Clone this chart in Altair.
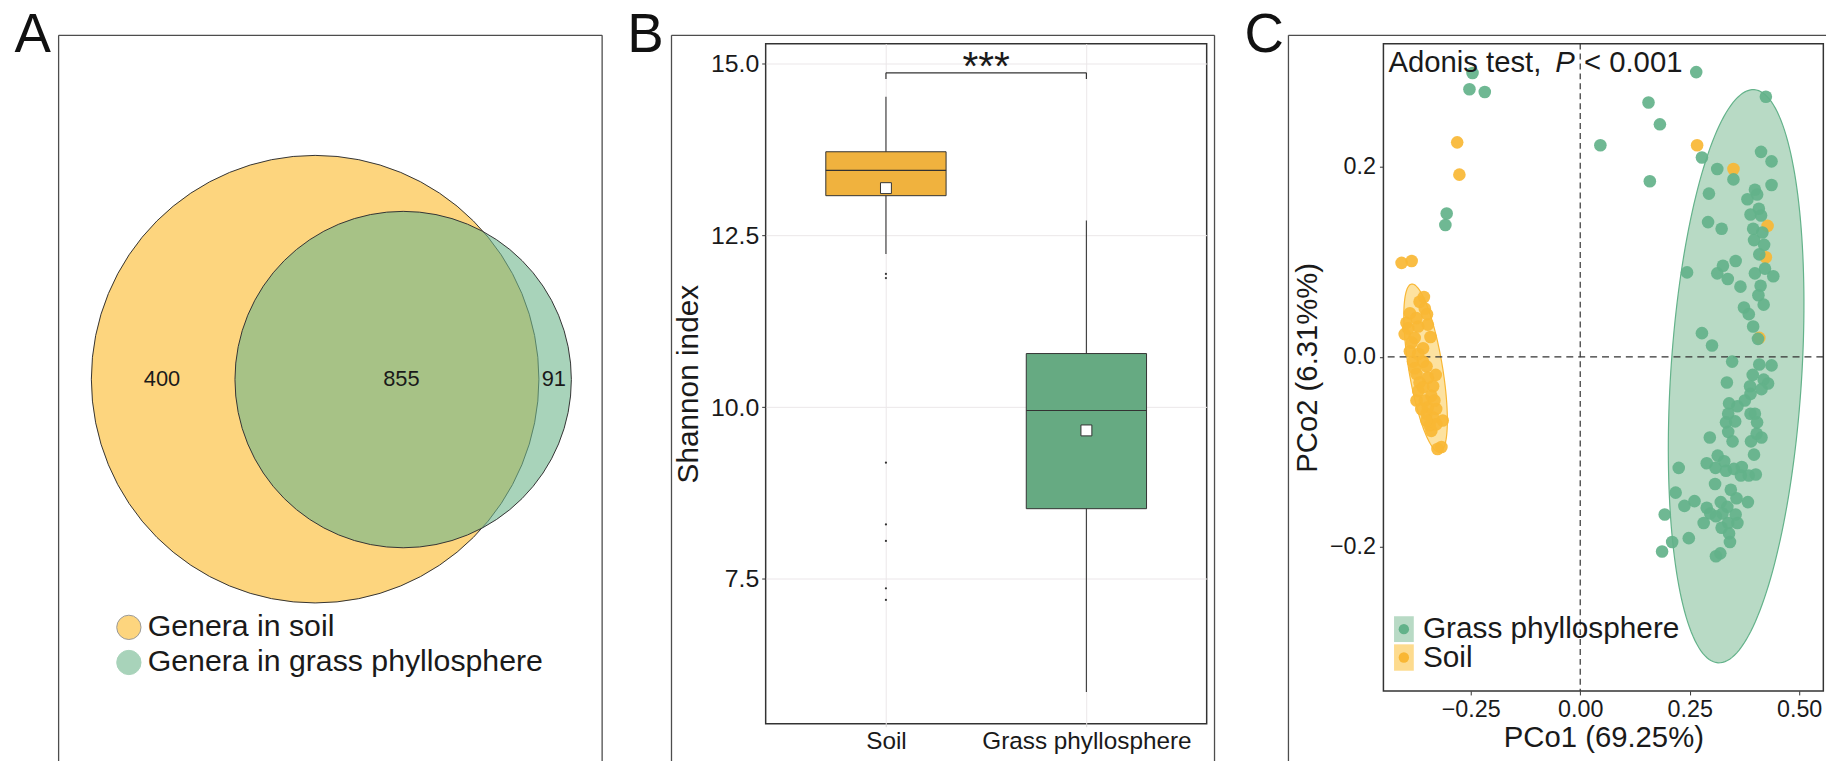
import numpy as np
import pandas as pd
import altair as alt

FONT = "Liberation Sans"
INK = "#1a1a1a"
FRAME = "#4d4d4d"

# ---------------- data ----------------
# Panel A (Venn)
venn_sets = ["Genera in soil", "Genera in grass phyllosphere"]
venn_region_counts = [400, 855, 91]          # soil only, shared, grass only

# Panel B (Shannon index box plot)
box_groups = ["Soil", "Grass phyllosphere"]
box_pos = [1, 2]
box_q1 = [13.08, 8.52]
box_median = [13.45, 9.95]
box_q3 = [13.72, 10.78]
box_whisker_low = [12.23, 5.85]
box_whisker_high = [14.52, 12.72]
box_mean = [13.19, 9.66]
soil_outliers = [11.94, 11.88, 9.19, 8.29, 8.05, 7.36, 7.19]
signif_label = "***"
signif_levels = [14.87, 14.78]               # bracket, bracket tips

# Panel C (PCoA)
grass_pc1 = [-0.246, -0.253, -0.218, -0.305, -0.308,
             0.265, 0.156, 0.182, 0.046, 0.159, 0.424, 0.278, 0.313, 0.350, 0.413, 0.437, 0.437, 0.294,
             0.399, 0.404, 0.382, 0.408, 0.389, 0.413, 0.292, 0.323, 0.395, 0.416, 0.397, 0.420, 0.409,
             0.355, 0.326, 0.313, 0.244, 0.337, 0.399, 0.422, 0.441, 0.366, 0.412, 0.407, 0.419, 0.374,
             0.385, 0.395, 0.278, 0.301, 0.406, 0.347, 0.409, 0.437,
             0.394, 0.335, 0.419, 0.429, 0.388, 0.414, 0.389, 0.376, 0.340, 0.359, 0.338, 0.389, 0.399,
             0.333, 0.354, 0.404, 0.338, 0.403, 0.414, 0.390, 0.348, 0.296, 0.397, 0.225, 0.289, 0.314,
             0.329, 0.309, 0.333, 0.351, 0.369, 0.367, 0.385, 0.401, 0.308, 0.344, 0.357, 0.383, 0.218,
             0.261, 0.238, 0.289, 0.321, 0.336, 0.193, 0.297, 0.310, 0.325, 0.355, 0.282, 0.338, 0.359,
             0.323, 0.340, 0.210, 0.248, 0.342, 0.187, 0.320, 0.310]
grass_pc2 = [0.299, 0.282, 0.279, 0.151, 0.139,
             0.300, 0.268, 0.245, 0.223, 0.185, 0.274, 0.210, 0.198, 0.187, 0.216, 0.206, 0.181, 0.172,
             0.176, 0.171, 0.166, 0.156, 0.150, 0.149, 0.142, 0.135, 0.135, 0.131, 0.123, 0.118, 0.108,
             0.101, 0.096, 0.088, 0.089, 0.082, 0.088, 0.093, 0.085, 0.074, 0.075, 0.065, 0.055, 0.052,
             0.045, 0.032, 0.025, 0.012, 0.019, -0.005, -0.008, -0.009,
             -0.019, -0.027, -0.024, -0.028, -0.031, -0.034, -0.039, -0.046, -0.049, -0.052, -0.060, -0.060, -0.060,
             -0.069, -0.068, -0.069, -0.079, -0.081, -0.085, -0.089, -0.089, -0.085, -0.103, -0.117, -0.112, -0.104,
             -0.110, -0.117, -0.120, -0.118, -0.116, -0.125, -0.125, -0.124, -0.134, -0.140, -0.149, -0.153, -0.143,
             -0.152, -0.157, -0.159, -0.153, -0.158, -0.166, -0.165, -0.168, -0.165, -0.166, -0.175, -0.175, -0.175,
             -0.180, -0.186, -0.195, -0.191, -0.195, -0.205, -0.207, -0.210]
soil_pc1 = [-0.281, -0.276, -0.408, -0.385, 0.267, 0.350, 0.428, 0.424, 0.409,
            -0.357, -0.367, -0.389, -0.350, -0.397, -0.401, -0.370, -0.342, -0.378, -0.389, -0.359,
            -0.382, -0.351, -0.330, -0.374, -0.367, -0.336, -0.370, -0.340, -0.355, -0.374, -0.329,
            -0.351, -0.314, -0.336, -0.344, -0.317, -0.326, -0.393, -0.355, -0.374, -0.348, -0.385,
            -0.370, -0.359, -0.378, -0.348, -0.359, -0.348, -0.363, -0.333, -0.340, -0.329, -0.351]
soil_pc2 = [0.226, 0.192, 0.099, 0.101, 0.223, 0.198, 0.138, 0.105, 0.020,
            0.063, 0.058, 0.046, 0.045, 0.036, 0.024, 0.032, 0.021, 0.020, 0.006, 0.009,
            -0.005, -0.010, -0.019, -0.018, -0.027, -0.031, -0.036, -0.041, -0.046, -0.046, -0.055,
            -0.060, -0.067, -0.064, -0.072, -0.095, -0.097, 0.030, 0.051, 0.041, 0.034, 0.015,
            0.003, -0.005, -0.012, -0.022, -0.032, -0.053, -0.055, -0.046, -0.078, -0.071, -0.067]
# 95% ellipses: centre, semi-axis vectors (data units)
grass_ellipse = [0.3561, -0.0204, 0.04125, 0.3019, 0.1493, -0.00434]
soil_ellipse = [-0.3532, -0.0118, -0.0321, 0.0885, 0.0380, 0.00294]
adonis_text = ["Adonis test, ", "P", " < 0.001"]

# ---------------- layout ----------------
A_W, A_H = 534.2, 685.3
B_W, B_H = 444.4, 685.3
C_W, C_H = 443.3, 652.3
GAP = 177.5
FRAME_TOP = -8.4
FRAME_BOTTOM = 725.0

SOIL_VENN = "#FDD57E"
GRASS_VENN = "#6EB68C"
SOIL_BOX = "#F0B23E"
GRASS_BOX = "#66AA82"
GREEN_PT = "#63B28A"
ORANGE_PT = "#F9B734"

one = pd.DataFrame({"k": [0]})


def frame(x0, x1, right=True):
    base = alt.Chart(one)
    layers = [
        base.mark_rule(color=FRAME, strokeWidth=1.3).encode(
            x=alt.value(x0), y=alt.value(FRAME_TOP), y2=alt.value(FRAME_BOTTOM)),
        base.mark_rule(color=FRAME, strokeWidth=1.3).encode(
            x=alt.value(x0), x2=alt.value(x1), y=alt.value(FRAME_TOP)),
    ]
    if right:
        layers.append(base.mark_rule(color=FRAME, strokeWidth=1.3).encode(
            x=alt.value(x1), y=alt.value(FRAME_TOP), y2=alt.value(FRAME_BOTTOM)))
    return layers


def letter(ch, x):
    return alt.Chart(one).mark_text(text=ch, fontSize=55, font=FONT, color="#111111",
                                    align="left", baseline="alphabetic").encode(
        x=alt.value(x), y=alt.value(8.1))


# ---------------- Panel A ----------------
ax_x = alt.Scale(domain=[0, A_W], nice=False, zero=False)
ax_y = alt.Scale(domain=[A_H, 0], nice=False, zero=False)


def XA(f):
    return alt.X(f, type="quantitative", scale=ax_x, axis=None)


def YA(f):
    return alt.Y(f, type="quantitative", scale=ax_y, axis=None)


circ = pd.DataFrame({"cx": [258.5, 347.2], "cy": [338.1, 338.5], "r": [225.5, 169.5]})
# vega circle symbol: size = diameter^2
soil_c = alt.Chart(circ.iloc[[0]]).mark_circle(
    size=(2 * 225.5) ** 2, color=SOIL_VENN, opacity=1, stroke="#333333", strokeWidth=1
).encode(x=XA("cx"), y=YA("cy"))
grass_c = alt.Chart(circ.iloc[[1]]).mark_circle(
    size=(2 * 169.5) ** 2, color=GRASS_VENN, fillOpacity=0.6, strokeOpacity=1,
    stroke="#333333", strokeWidth=1
).encode(x=XA("cx"), y=YA("cy"))
venn_lab = pd.DataFrame({"x": [104.2, 345.4, 499.0], "y": [338.0] * 3,
                         "t": [str(v) for v in venn_region_counts]})
venn_text = alt.Chart(venn_lab).mark_text(fontSize=22, font=FONT, color=INK, baseline="middle").encode(
    x=XA("x"), y=YA("y"), text="t:N")
leg_a = pd.DataFrame({"x": [70.8, 70.8], "y": [588.2, 623.6], "t": venn_sets,
                      "c": ["#FDD57E", "#A8D3BA"], "s": ["#999999", "#A8D3BA"]})
leg_a_dot = alt.Chart(leg_a).mark_circle(size=600, opacity=1, strokeWidth=1).encode(
    x=XA("x"), y=YA("y"), color=alt.Color("c:N", scale=None), stroke=alt.Stroke("s:N", scale=None))
leg_a_txt = alt.Chart(leg_a).mark_text(fontSize=30.5, font=FONT, color=INK, align="left",
                                       baseline="middle", dx=19).encode(x=XA("x"), y=YA("y"), text="t:N")

panelA = alt.layer(
    soil_c, grass_c, venn_text, leg_a_dot, leg_a_txt,
    *frame(0, 547.7), letter("A", -44.5)
).properties(width=A_W, height=A_H, view=alt.ViewBackground(stroke="transparent"))

# ---------------- Panel B ----------------
bx = alt.Scale(domain=[0.4, 2.6], nice=False, zero=False)
by = alt.Scale(domain=[5.387, 15.295], nice=False, zero=False)
label_expr = "datum.value == 1 ? '%s' : '%s'" % (box_groups[0], box_groups[1])
axBx = alt.Axis(values=[1, 2], labelExpr=label_expr, title=None, grid=True, gridColor="#EBE7E9",
                domain=False, ticks=True, tickColor="#D9D9D9", tickSize=3, labelPadding=3,
                labelFontSize=24.5, labelFlush=False, labelLimit=1000, labelColor=INK)
axBy = alt.Axis(values=[7.5, 10, 12.5, 15], format=".1f", title="Shannon index", grid=True,
                gridColor="#EBE7E9", domain=False, tickColor="#333333", tickSize=4, labelPadding=3,
                labelFontSize=25, titleFontSize=30, titlePadding=7, labelColor=INK, titleColor=INK)


def XB(f):
    return alt.X(f, type="quantitative", scale=bx, axis=axBx)


def YB(f):
    return alt.Y(f, type="quantitative", scale=by, axis=axBy)


box = pd.DataFrame({"g": box_groups, "p": box_pos, "q1": box_q1, "med": box_median, "q3": box_q3,
                    "lo": box_whisker_low, "hi": box_whisker_high, "mean": box_mean,
                    "col": [SOIL_BOX, GRASS_BOX]})
box["l"] = box["p"] - 0.3
box["r"] = box["p"] + 0.3
whisk = alt.Chart(box).mark_rule(color="#444444", strokeWidth=1.2).encode(x=XB("p"), y=YB("lo"), y2="hi")
boxes = alt.Chart(box).mark_rect(stroke="#333333", strokeWidth=1).encode(
    x=XB("l"), x2="r", y=YB("q1"), y2="q3", color=alt.Color("col:N", scale=None))
med = alt.Chart(box).mark_rule(color="#333333", strokeWidth=1.2).encode(x=XB("l"), x2="r", y=YB("med"))
mean = alt.Chart(box).mark_point(shape="square", filled=True, fill="white", stroke="#333333",
                                 strokeWidth=1, size=121, opacity=1).encode(x=XB("p"), y=YB("mean"))
outl = alt.Chart(pd.DataFrame({"p": [box_pos[0]] * len(soil_outliers), "v": soil_outliers})).mark_circle(
    size=5, color="#333333", opacity=1).encode(x=XB("p"), y=YB("v"))
br = pd.DataFrame({"x1": [box_pos[0]], "x2": [box_pos[1]], "y": [signif_levels[0]],
                   "ytip": [signif_levels[1]]})
br_h = alt.Chart(br).mark_rule(color="#333333", strokeWidth=1.2).encode(x=XB("x1"), x2="x2", y=YB("y"))
br_l = alt.Chart(br).mark_rule(color="#333333", strokeWidth=1.2).encode(x=XB("x1"), y=YB("y"), y2="ytip")
br_r = alt.Chart(br).mark_rule(color="#333333", strokeWidth=1.2).encode(x=XB("x2"), y=YB("y"), y2="ytip")
star = alt.Chart(pd.DataFrame({"x": [(box_pos[0] + box_pos[1]) / 2], "y": [signif_levels[0]],
                               "t": [signif_label]})).mark_text(
    fontSize=41, font=FONT, color=INK, baseline="alphabetic", dy=7).encode(x=XB("x"), y=YB("y"), text="t:N")

panelB = alt.layer(
    whisk, boxes, med, mean, outl, br_h, br_l, br_r, star,
    *frame(-94.9, 452.3), letter("B", -139.5)
).properties(width=B_W, height=B_H, view=alt.ViewBackground(stroke="#333333", strokeWidth=1.5))

# ---------------- Panel C ----------------
cx_s = alt.Scale(domain=[-0.4495, 0.5553], nice=False, zero=False)
cy_s = alt.Scale(domain=[-0.352, 0.330], nice=False, zero=False)
axCx = alt.Axis(values=[-0.25, 0, 0.25, 0.5], format=".2f", title="PCo1 (69.25%)", grid=False,
                domain=False, tickColor="#333333", tickSize=4, labelPadding=3, labelFontSize=23.5,
                titleFontSize=29.5, titlePadding=2, labelFlush=False, labelColor=INK, titleColor=INK)
axCy = alt.Axis(values=[-0.2, 0, 0.2], format=".1f", title="PCo2 (6.31%%)", grid=False,
                domain=False, tickColor="#333333", tickSize=4, labelPadding=4, labelFontSize=23.5,
                titleFontSize=29.5, titlePadding=7, labelColor=INK, titleColor=INK)


def XC(f):
    return alt.X(f, type="quantitative", scale=cx_s, axis=axCx)


def YC(f):
    return alt.Y(f, type="quantitative", scale=cy_s, axis=axCy)


def ellipse_df(p, n=180):
    t = np.linspace(0, 2 * np.pi, n, endpoint=False)
    return pd.DataFrame({"x": p[0] + p[2] * np.cos(t) + p[4] * np.sin(t),
                         "y": p[1] + p[3] * np.cos(t) + p[5] * np.sin(t),
                         "i": np.arange(n)})


ell_g = alt.Chart(ellipse_df(grass_ellipse)).mark_line(
    interpolate="linear-closed", fill="#B8DAC5", stroke=GREEN_PT, strokeWidth=1.2).encode(
    x=XC("x"), y=YC("y"), order="i:Q")
ell_s = alt.Chart(ellipse_df(soil_ellipse)).mark_line(
    interpolate="linear-closed", fill="#FDE2A0", stroke=ORANGE_PT, strokeWidth=1.2).encode(
    x=XC("x"), y=YC("y"), order="i:Q")
zero = pd.DataFrame({"z": [0.0]})
vline = alt.Chart(zero).mark_rule(color="#333333", strokeWidth=1.2, strokeDash=[6, 4]).encode(x=XC("z"))
hline = alt.Chart(zero).mark_rule(color="#333333", strokeWidth=1.2, strokeDash=[7, 5]).encode(y=YC("z"))
pts_s = alt.Chart(pd.DataFrame({"x": soil_pc1, "y": soil_pc2})).mark_circle(
    size=161, color=ORANGE_PT, opacity=0.92).encode(x=XC("x"), y=YC("y"))
pts_g = alt.Chart(pd.DataFrame({"x": grass_pc1, "y": grass_pc2})).mark_circle(
    size=161, color=GREEN_PT, opacity=0.92).encode(x=XC("x"), y=YC("y"))
adon = pd.DataFrame({"x": [-0.4381, -0.0571, 0.0086], "y": [0.3003] * 3, "t": adonis_text,
                     "st": ["normal", "italic", "normal"]})
adon_n = alt.Chart(adon[adon.st == "normal"]).mark_text(
    fontSize=29.5, font=FONT, color=INK, align="left", baseline="alphabetic").encode(
    x=XC("x"), y=YC("y"), text="t:N")
adon_i = alt.Chart(adon[adon.st == "italic"]).mark_text(
    fontSize=29.5, font=FONT, color=INK, align="left", baseline="alphabetic", fontStyle="italic").encode(
    x=XC("x"), y=YC("y"), text="t:N")
# legend
leg_c = [
    alt.Chart(one).mark_rect(color="#B8DAC5").encode(
        x=alt.value(10.7), x2=alt.value(30.6), y=alt.value(577.0), y2=alt.value(603.0)),
    alt.Chart(one).mark_rect(color="#FDDB8E").encode(
        x=alt.value(10.7), x2=alt.value(30.6), y=alt.value(605.3), y2=alt.value(631.9)),
    alt.Chart(one).mark_circle(color=GREEN_PT, size=110, opacity=1).encode(
        x=alt.value(20.6), y=alt.value(590.0)),
    alt.Chart(one).mark_circle(color=ORANGE_PT, size=110, opacity=1).encode(
        x=alt.value(20.6), y=alt.value(618.6)),
    alt.Chart(one).mark_text(text="Grass phyllosphere", fontSize=30, font=FONT, color=INK,
                             align="left", baseline="middle").encode(x=alt.value(39.8), y=alt.value(590.3)),
    alt.Chart(one).mark_text(text="Soil", fontSize=30, font=FONT, color=INK,
                             align="left", baseline="middle").encode(x=alt.value(39.8), y=alt.value(619.0)),
]

panelC = alt.layer(
    ell_g, ell_s, vline, hline, pts_s, pts_g, adon_n, adon_i, *leg_c,
    *frame(-95.7, 446.0, right=False), letter("C", -139.9)
).properties(width=C_W, height=C_H, view=alt.ViewBackground(stroke="#333333", strokeWidth=1.5))

chart = alt.hconcat(panelA, panelB, panelC, spacing=GAP, bounds="flush").properties(
    padding={"left": 6, "top": -4, "right": 0, "bottom": 0}
).configure_axis(
    labelFont=FONT, titleFont=FONT, titleFontWeight="normal"
).configure_text(font=FONT)

chart.save("out.html", embed_options={"renderer": "svg", "actions": False})
